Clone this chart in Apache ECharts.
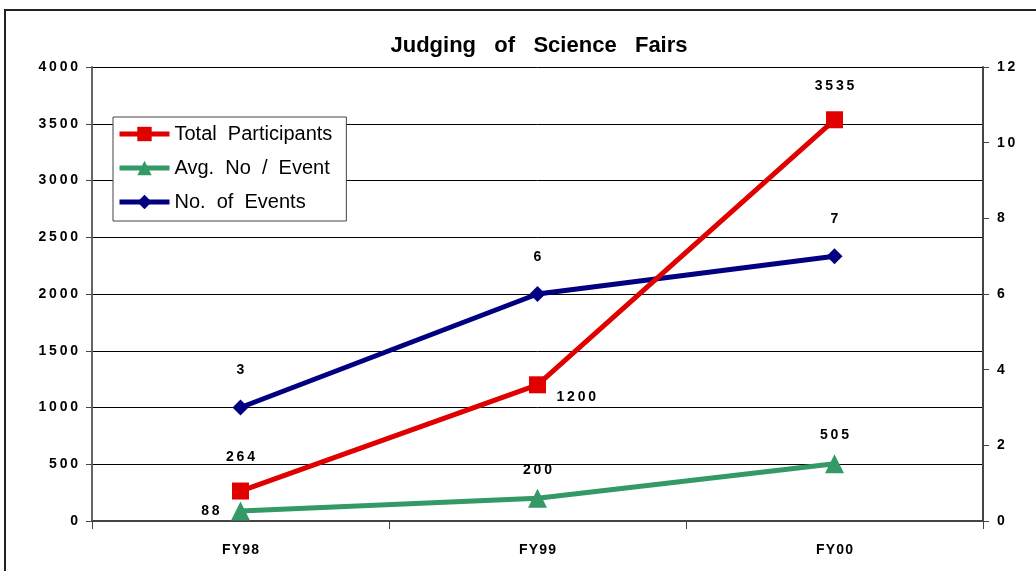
<!DOCTYPE html>
<html>
<head>
<meta charset="utf-8">
<script src="https://cdn.jsdelivr.net/npm/echarts@6/dist/echarts.min.js"></script>
<style>
  html, body { margin: 0; padding: 0; background: #fff; }
  #chart { width: 1036px; height: 571px; }
</style>
</head>
<body>
<div id="chart"></div>
<script>
const years = ['FY98', 'FY99', 'FY00'];
const totalParticipants = [264, 1200, 3535];
const avgPerEvent = [88, 200, 505];
const numEvents = [3, 6, 7];

// the original spreads digits out a little
const spread = v => String(v).split('').join('\u2009');

const labelFont = {
  show: true,
  color: '#000',
  fontFamily: 'Liberation Sans',
  fontWeight: 'bold',
  fontSize: 14
};

const chart = echarts.init(document.getElementById('chart'));

chart.setOption({
  backgroundColor: '#fff',
  animation: false,
  graphic: [{
    type: 'rect',
    shape: { x: 5, y: 10, width: 1100, height: 700 },
    style: { fill: 'none', stroke: '#222', lineWidth: 2 },
    silent: true
  }],
  title: {
    text: 'Judging   of   Science   Fairs',
    left: 534,
    textAlign: 'center',
    top: 30,
    textStyle: {
      fontFamily: 'Liberation Sans',
      fontWeight: 'bold',
      fontSize: 22,
      color: '#000'
    }
  },
  legend: {
    orient: 'vertical',
    left: 113,
    top: 117,
    padding: [7, 14, 9, 4],
    itemGap: 14,
    itemWidth: 50,
    itemHeight: 18,
    backgroundColor: '#fff',
    borderColor: '#444',
    borderWidth: 1,
    lineStyle: { width: 5 },
    textStyle: { fontFamily: 'Liberation Sans', fontSize: 20, color: '#000' },
    data: ['Total  Participants', 'Avg.  No  /  Event', 'No.  of  Events']
  },
  grid: { left: 92, right: 53, top: 67, bottom: 50 },
  xAxis: {
    type: 'category',
    data: years,
    boundaryGap: true,
    axisLine: { lineStyle: { color: '#444', width: 2 } },
    axisTick: { show: true, length: 8, lineStyle: { color: '#444' } },
    axisLabel: {
      margin: 22,
      color: '#000',
      fontFamily: 'Liberation Sans',
      fontWeight: 'bold',
      fontSize: 14,
      formatter: v => v.split('').join('\u200a')
    }
  },
  yAxis: [{
    type: 'value',
    min: 0,
    max: 4000,
    interval: 500,
    axisLine: { show: true, lineStyle: { color: '#666', width: 2 } },
    axisTick: { show: true, length: 6, lineStyle: { color: '#444' } },
    axisLabel: {
      margin: 14,
      color: '#000',
      fontFamily: 'Liberation Sans',
      fontWeight: 'bold',
      fontSize: 14,
      formatter: spread
    },
    splitLine: { show: true, lineStyle: { color: '#000', width: 1 } }
  }, {
    type: 'value',
    min: 0,
    max: 12,
    interval: 2,
    position: 'right',
    axisLine: { show: true, lineStyle: { color: '#444', width: 2 } },
    axisTick: { show: true, length: 6, lineStyle: { color: '#444' } },
    axisLabel: {
      margin: 14,
      color: '#000',
      fontFamily: 'Liberation Sans',
      fontWeight: 'bold',
      fontSize: 14,
      formatter: spread
    },
    splitLine: { show: false }
  }],
  series: [{
    name: 'Total  Participants',
    type: 'line',
    yAxisIndex: 0,
    data: totalParticipants,
    symbol: 'rect',
    symbolSize: 17,
    color: '#e00000',
    lineStyle: { width: 5, color: '#e00000' },
    itemStyle: { color: '#e00000' },
    label: Object.assign({}, labelFont, {
      position: 'top',
      distance: 18,
      formatter: p => p.dataIndex === 1 ? '' : spread(p.value)
    }),
    markPoint: {
      symbol: 'circle',
      symbolSize: 0,
      label: Object.assign({}, labelFont, {
        position: 'right', offset: [14, 12],
        formatter: p => spread(p.value)
      }),
      data: [{ coord: [1, totalParticipants[1]], value: totalParticipants[1] }]
    },
    z: 3
  }, {
    name: 'Avg.  No  /  Event',
    type: 'line',
    yAxisIndex: 0,
    data: avgPerEvent,
    symbol: 'triangle',
    symbolSize: 19,
    color: '#339966',
    lineStyle: { width: 5, color: '#339966' },
    itemStyle: { color: '#339966' },
    label: Object.assign({}, labelFont, {
      position: 'top',
      distance: 12,
      formatter: p => p.dataIndex === 0 ? '' : spread(p.value)
    }),
    markPoint: {
      symbol: 'circle',
      symbolSize: 0,
      label: Object.assign({}, labelFont, {
        position: 'left', offset: [-16, 0],
        formatter: p => spread(p.value)
      }),
      data: [{ coord: [0, avgPerEvent[0]], value: avgPerEvent[0] }]
    },
    z: 2
  }, {
    name: 'No.  of  Events',
    type: 'line',
    yAxisIndex: 1,
    data: numEvents,
    symbol: 'diamond',
    symbolSize: 16,
    color: '#000080',
    lineStyle: { width: 5, color: '#000080' },
    itemStyle: { color: '#000080' },
    label: Object.assign({}, labelFont, { position: 'top', distance: 22 }),
    z: 1
  }]
});
</script>
</body>
</html>
